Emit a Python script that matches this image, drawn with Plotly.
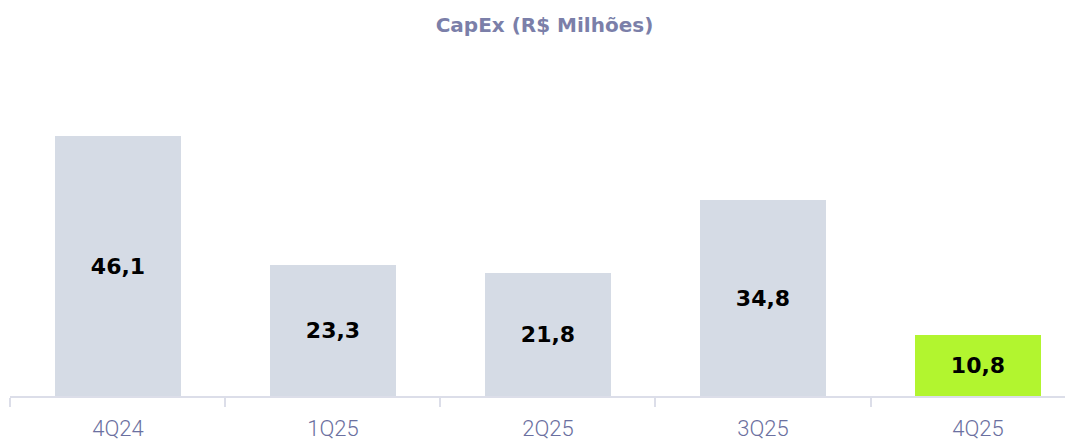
import plotly.graph_objects as go

categories = ["4Q24", "1Q25", "2Q25", "3Q25", "4Q25"]
values = [46.1, 23.3, 21.8, 34.8, 10.8]
labels = ["46,1", "23,3", "21,8", "34,8", "10,8"]
colors = ["#d5dbe5", "#d5dbe5", "#d5dbe5", "#d5dbe5", "#b2f52f"]

fig = go.Figure(go.Bar(
    x=categories, y=values, text=labels,
    marker=dict(color=colors, line=dict(width=0)),
    width=0.586,
    textposition="inside", insidetextanchor="middle",
    textangle=0,
    textfont=dict(family="DejaVu Sans", size=22, color="#000000", weight="bold"),
    cliponaxis=False,
    hoverinfo="skip",
))

fig.update_layout(
    width=1073, height=442,
    margin=dict(l=2, r=0, t=52, b=54),
    paper_bgcolor="white", plot_bgcolor="white",
    title=dict(text="CapEx (R$ Milhões)", x=0.5, xanchor="center", y=0.9615, yanchor="middle",
               font=dict(family="DejaVu Sans", size=20, color="#7b7fa9", weight="bold")),
    showlegend=False,
    bargap=0,
)
fig.update_xaxes(
    range=[-0.502, 4.479], type="category",
    showline=True, linecolor="#dcdee9", linewidth=2,
    ticks="outside", tickson="boundaries", ticklen=9, tickcolor="#dcdee9", tickwidth=2,
    tickfont=dict(family="Roboto", size=22, color="#6b70a0", weight=300),
    ticklabelstandoff=12,
    showgrid=False, zeroline=False,
)
fig.update_yaxes(range=[0, 59.6], visible=False, showgrid=False, zeroline=False)

fig.write_html("out.html")
